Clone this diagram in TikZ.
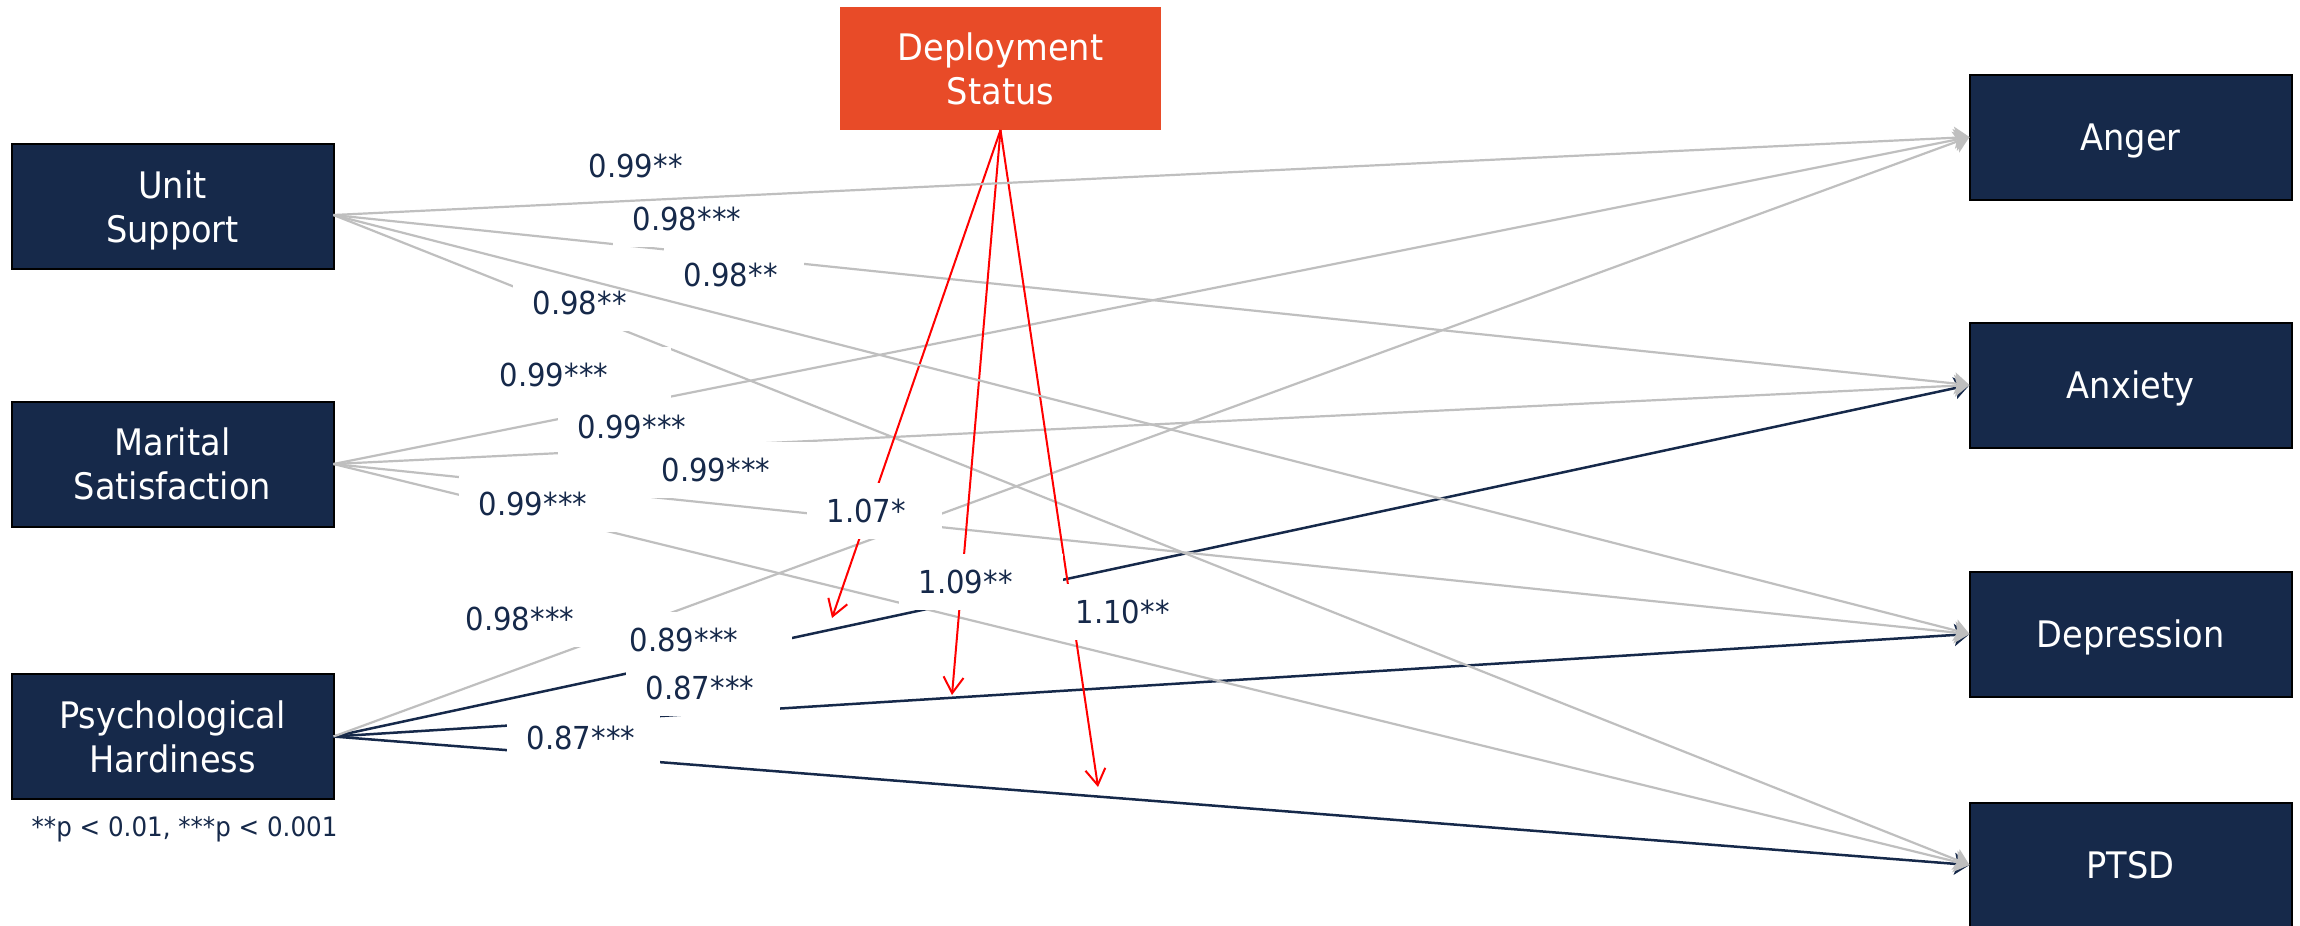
\documentclass[tikz,border=0pt]{standalone}
\usepackage{fontspec}
\setmainfont[FakeStretch=0.92]{DejaVu Sans}
\usetikzlibrary{arrows.meta}
\definecolor{navy}{HTML}{16294A}
\definecolor{dsorange}{HTML}{E84B28}
\definecolor{lightline}{HTML}{BFBFBF}
\tikzset{
    var/.style={draw=black, line width=0.2mm, fill=navy, text=white, outer sep=0pt,
        minimum width=32.2mm, minimum height=12.5mm, align=center, text depth=0pt,
        font=\fontsize{10.4pt}{12.5pt}\selectfont},
    coef/.style={fill=white, text=navy, anchor=west, inner xsep=2mm, inner ysep=0pt,
        minimum height=5.6mm, text height=2.3mm, text depth=0pt, align=left,
        font=\fontsize{9pt}{10pt}\selectfont},
    gpath/.style={draw=lightline, line width=0.22mm, -{Stealth[length=1.5mm, width=2.2mm, inset=0.3mm]}},
    npath/.style={draw=navy, line width=0.25mm, -{Stealth[length=1.5mm, width=2.2mm, inset=0.3mm]}},
    rpath/.style={draw=red, line width=0.2mm, -{Straight Barb[length=1.6mm, width=2mm]}}
}

\begin{document}
\begin{tikzpicture}[x=0.1mm, y=-0.1mm]
    \path[use as bounding box, fill=white] (0,0) rectangle (2300,925);

    \node[var] (unit) at (172.5,206.5) {Unit\\Support};
    \node[var] (marital) at (172.5,464) {Marital\\Satisfaction};
    \node[var] (hardy) at (172.5,736.5) {Psychological\\Hardiness};
    \node[var, fill=dsorange, draw=none, minimum width=32.1mm, minimum height=12.3mm] (deploy) at (1000.5,68.5) {Deployment\\Status};
    \node[var] (anger) at (2130.5,137) {Anger};
    \node[var] (anxiety) at (2130.5,385) {Anxiety};
    \node[var] (depress) at (2130.5,634) {Depression};
    \node[var] (ptsd) at (2130.5,865) {PTSD};

    \coordinate (unit-out) at ([yshift=-0.85mm]unit.east);
    \coordinate (tip-1) at (832,618);
    \coordinate (tip-2) at (952,695);
    \coordinate (tip-3) at (1098,787);

    \draw[npath] (hardy.east) -- (anxiety.west);
    \draw[npath] (hardy.east) -- (depress.west);
    \draw[npath] (hardy.east) -- (ptsd.west);

    \draw[gpath] (unit-out) -- (anxiety.west);
    \draw[gpath] (unit-out) -- (ptsd.west);
    \draw[gpath] (marital.east) -- (anger.west);
    \draw[gpath] (marital.east) -- (anxiety.west);
    \draw[gpath] (marital.east) -- (depress.west);
    \draw[gpath] (marital.east) -- (ptsd.west);
    \draw[gpath] (hardy.east) -- (anger.west);

    \draw[rpath] (deploy.south) -- (tip-1);
    \draw[rpath] (deploy.south) -- (tip-2);
    \draw[rpath] (deploy.south) -- (tip-3);

    \node[coef, text width=13.2mm] (coef-1) at (568,166) {0.99**};
    \node[coef, text width=14.8mm] (coef-2) at (612,219) {0.98***};
    \node[coef, text width=10.0mm] (coef-3) at (663,275) {0.98**};
    \node[coef, text width=10.8mm] (coef-4) at (512,303) {0.98**};
    \node[coef, text width=15.1mm] (coef-5) at (479,375) {0.99***};
    \node[coef, text width=14.8mm] (coef-6) at (557,427) {0.99***};
    \node[coef, text width=14.3mm] (coef-7) at (641,470) {0.99***};
    \node[coef, text width=15.2mm] (coef-8) at (458,504) {0.99***};
    \node[coef, text width=9.5mm] (coef-9) at (806,511) {1.07*};
    \node[coef, text width=12.4mm] (coef-10) at (898,582) {1.09**};
    \node[coef, text width=11.0mm] (coef-11) at (1055,612) {1.10**};
    \node[coef, text width=14.0mm] (coef-12) at (445,619) {0.98***};
    \node[coef, text width=14.2mm] (coef-13) at (609,640) {0.89***};
    \node[coef, text width=11.4mm] (coef-14) at (625,688) {0.87***};
    \node[coef, text width=11.3mm] (coef-15) at (506,738) {0.87***};

    % these two run over the labels
    \draw[gpath] (unit-out) -- (anger.west);
    \draw[gpath] (unit-out) -- (depress.west);

    \node[anchor=base west, text=navy, inner sep=0pt, font=\fontsize{7.6pt}{9pt}\selectfont] (note) at (31,836) {**p < 0.01, ***p < 0.001};
\end{tikzpicture}
\end{document}
